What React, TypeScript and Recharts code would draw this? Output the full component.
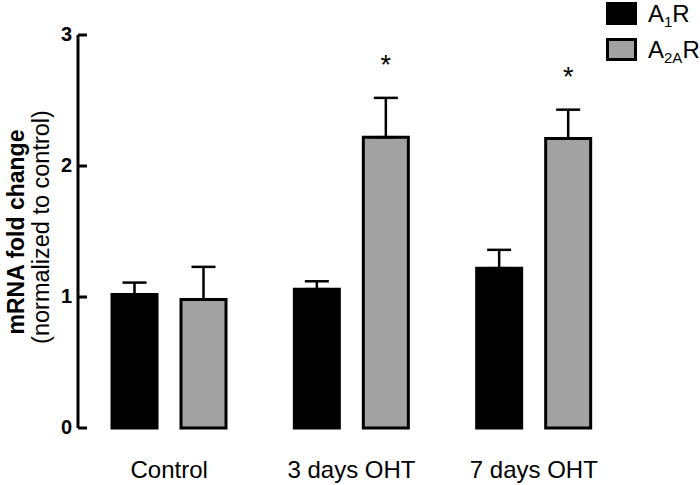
import React from 'react';
import { BarChart, Bar, XAxis, YAxis, ErrorBar, LabelList } from 'recharts';

const categories = ['Control', '3 days OHT', '7 days OHT'];
const a1rValues = [1.02, 1.06, 1.22];
const a1rErrors = [0.09, 0.06, 0.14];
const a2aValues = [0.98, 2.22, 2.21];
const a2aErrors = [0.25, 0.3, 0.22];
const a2aSignificant = [false, true, true];
const yTicks = [0, 1, 2, 3];

const FONT = '"Liberation Sans", Arial, Helvetica, sans-serif';
const GRAY = '#a2a2a2';

const data = categories.map((c, i) => ({
  name: c,
  a1r: a1rValues[i],
  a1rErr: [0, a1rErrors[i]],
  a2a: a2aValues[i],
  a2aErr: [0, a2aErrors[i]],
}));

const YTick = (props: any) => {
  const { x, y, payload } = props;
  return (
    <g>
      <line x1={x + 6} x2={x + 15} y1={y} y2={y} stroke="#000" strokeWidth={3} />
      <text
        x={x}
        y={y - 1}
        textAnchor="end"
        dominantBaseline="central"
        fontFamily={FONT}
        fontWeight="bold"
        fontSize={20}
        fill="#000"
      >
        {payload.value}
      </text>
    </g>
  );
};

const renderStar = (props: any) => {
  const vb = props.viewBox || props;
  const x = vb.x ?? props.x;
  const y = vb.y ?? props.y;
  const width = vb.width ?? props.width;
  const height = vb.height ?? props.height;
  const index = props.index;
  const value = Number(props.value);
  if (index == null || !a2aSignificant[index] || !value) return null;
  const pxPerUnit = height / value;
  const top = y - a2aErrors[index] * pxPerUnit;
  return (
    <text
      x={x + width / 2}
      y={top - 24}
      textAnchor="middle"
      fontFamily={FONT}
      fontSize={27}
      fill="#000"
    >
      *
    </text>
  );
};

const yLabel = () => (
  <g>
    <text
      transform="translate(24,232) rotate(-90)"
      textAnchor="middle"
      fontFamily={FONT}
      fontWeight="bold"
      fontSize={23}
      fill="#000"
    >
      mRNA fold change
    </text>
    <text
      transform="translate(49,227) rotate(-90)"
      textAnchor="middle"
      fontFamily={FONT}
      fontSize={23.5}
      fill="#000"
    >
      (normalized to control)
    </text>
  </g>
);

export default function App() {
  return (
    <div style={{ position: 'absolute', left: 0, top: 0, width: 700, height: 485, background: '#fff' }}>
      <BarChart
        width={700}
        height={485}
        data={data}
        margin={{ top: 35, right: 75, bottom: 0, left: 0 }}
        barSize={45}
        barGap={24}
      >
        <XAxis
          dataKey="name"
          axisLine={false}
          tickLine={false}
          tickSize={0}
          tickMargin={33}
          height={57}
          tick={{ fill: '#000', fontSize: 24, fontFamily: FONT }}
          interval={0}
        />
        <YAxis
          width={78}
          domain={[0, 3]}
          ticks={yTicks}
          tickLine={false}
          tickSize={0}
          tickMargin={6}
          axisLine={{ stroke: '#000', strokeWidth: 3 }}
          tick={<YTick />}
          label={{ content: yLabel }}
        />
        <Bar dataKey="a1r" fill="#000" stroke="#000" strokeWidth={3} isAnimationActive={false}>
          <ErrorBar dataKey="a1rErr" width={12} stroke="#000" strokeWidth={2.5} />
        </Bar>
        <Bar dataKey="a2a" fill={GRAY} stroke="#000" strokeWidth={3} isAnimationActive={false}>
          <ErrorBar dataKey="a2aErr" width={12} stroke="#000" strokeWidth={2.5} />
          <LabelList dataKey="a2a" content={renderStar} />
        </Bar>
      </BarChart>
      <svg
        width={100}
        height={70}
        style={{ position: 'absolute', left: 600, top: 0 }}
      >
        <rect x={6} y={2} width={31} height={23} fill="#000" />
        <rect x={7.5} y={39.5} width={28} height={20} fill={GRAY} stroke="#000" strokeWidth={3} />
        <text x={48} y={22} fontFamily={FONT} fontSize={24} fill="#000">
          <tspan>A</tspan>
          <tspan dy={5} fontSize={15}>1</tspan>
          <tspan dy={-5}>R</tspan>
        </text>
        <text x={48} y={58} fontFamily={FONT} fontSize={24} fill="#000">
          <tspan>A</tspan>
          <tspan dy={5} fontSize={15}>2A</tspan>
          <tspan dy={-5}>R</tspan>
        </text>
      </svg>
    </div>
  );
}
